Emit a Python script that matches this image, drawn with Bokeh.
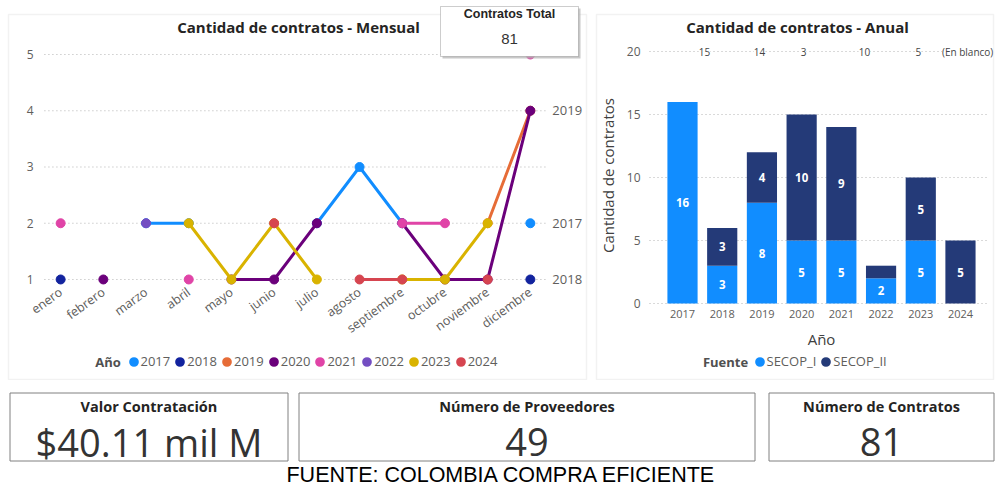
import math
from bokeh.plotting import figure
from bokeh.models import (ColumnDataSource, Range1d, FactorRange, FixedTicker, Label,
                          BoxAnnotation, Legend, LegendItem)
from bokeh.layouts import column, row
from bokeh.embed import file_html
from bokeh.resources import INLINE
from bokeh.core.properties import value

nan = float("nan")

# ---------------- data ----------------
months = ["enero", "febrero", "marzo", "abril", "mayo", "junio", "julio",
          "agosto", "septiembre", "octubre", "noviembre", "diciembre"]
series_years = ["2017", "2018", "2019", "2020", "2021", "2022", "2023", "2024"]
series_colors = ["#118DFF", "#12239E", "#E66C37", "#6B007B",
                 "#E044A7", "#744EC2", "#D9B300", "#D64550"]
v2017 = [nan, nan, 2, 2, nan, nan, 2, 3, 2, nan, nan, 2]
v2018 = [1, nan, nan, nan, nan, nan, nan, nan, nan, nan, nan, 1]
v2019 = [nan, nan, nan, nan, nan, nan, nan, nan, nan, nan, 2, 4]
v2020 = [nan, 1, nan, nan, 1, 1, 2, nan, 2, 1, 1, 4]
v2021 = [2, nan, nan, 1, nan, nan, nan, nan, 2, 2, nan, 5]
v2022 = [nan, nan, 2, nan, nan, nan, nan, nan, nan, nan, nan, nan]
v2023 = [nan, nan, nan, 2, 1, 2, 1, nan, 1, 1, 2, nan]
v2024 = [nan, nan, nan, nan, nan, 2, nan, 1, 1, nan, 1, nan]
series_values = [v2017, v2018, v2019, v2020, v2021, v2022, v2023, v2024]
line_yticks = [1, 2, 3, 4, 5]
end_labels = ["2019", "2017", "2018"]
end_values = [4, 2, 1]

years = ["2017", "2018", "2019", "2020", "2021", "2022", "2023", "2024"]
fuentes = ["SECOP_I", "SECOP_II"]
fuente_colors = ["#118DFF", "#243A78"]
secop_i = [16, 3, 8, 5, 5, 2, 5, 0]
secop_ii = [0, 3, 4, 10, 9, 1, 5, 5]
bar_yticks = [0, 5, 10, 15, 20]
top_labels = ["15", "14", "3", "10", "5", "(En blanco)"]

total_title = "Contratos Total"
total_value = "81"
kpi_titles = ["Valor Contratación", "Número de Proveedores", "Número de Contratos"]
kpi_values = ["$40.11 mil M", "49", "81"]
footer_text = "FUENTE: COLOMBIA COMPRA EFICIENTE"

FONT = "Open Sans"
GREY = "#605E5C"
DARK = "#252423"
GRID = "#B4B4B4"
PANEL = "#D4D4D4"


def box(fig, l, r, t, b, H, **kw):
    """panel / card rectangle in screen pixels (t, b measured from top)."""
    fig.add_layout(BoxAnnotation(left=l, right=r, top=H - t, bottom=H - b,
                                 left_units="screen", right_units="screen",
                                 top_units="screen", bottom_units="screen", **kw))


def slabel(fig, x, y, H, text, **kw):
    """text in screen pixels (y measured from top)."""
    fig.add_layout(Label(x=x, y=H - y, x_units="screen", y_units="screen", text=text,
                         text_align=kw.pop("align", "center"), text_baseline="middle",
                         **kw))


def style_axis(ax, size):
    ax.axis_line_color = None
    ax.major_tick_line_color = None
    ax.minor_tick_line_color = None
    ax.major_tick_out = 0
    ax.major_tick_in = 0
    ax.minor_tick_out = 0
    ax.major_label_text_color = GREY
    ax.major_label_text_font = FONT
    ax.major_label_text_font_size = size


# ---------------- line chart (Mensual) ----------------
LW, LH = 590, 380
lf = figure(width=LW, height=LH, x_range=FactorRange(*months, range_padding=0.1514),
            y_range=Range1d(-0.796, 5.96), output_backend="svg", toolbar_location=None,
            min_border=0)
lf.outline_line_color = None
lf.grid.visible = False
style_axis(lf.xaxis[0], "12.5px")
style_axis(lf.yaxis[0], "12px")
lf.xaxis.fixed_location = 0.911
lf.xaxis.major_label_orientation = math.radians(36)
lf.xaxis.major_label_standoff = 6
lf.yaxis.fixed_location = 0.03
lf.yaxis.ticker = FixedTicker(ticks=line_yticks)
lf.yaxis.major_label_standoff = 7

box(lf, 8, 586, 14, 379, LH, fill_color=None, line_color=PANEL, line_width=1.5)
slabel(lf, 298, 26, LH, "Cantidad de contratos - Mensual", text_font=FONT,
       text_font_size="15px", text_font_style="bold", text_color=DARK)

n_ticks = len(line_yticks)
lf.segment(x0=[0.12] * n_ticks, x1=[len(months) - 0.08] * n_ticks,
           y0=line_yticks, y1=line_yticks, line_color=GRID, line_dash="1 3",
           line_width=1.2)

legend_items = []
for yr, col, ys in zip(series_years, series_colors, series_values):
    src = ColumnDataSource(dict(x=months, y=ys))
    lf.line("x", "y", source=src, line_color=col, line_width=3,
            line_join="round", line_cap="round")
    lf.scatter("x", "y", source=src, size=9, fill_color=col, line_color=col)
    dummy = lf.scatter(x=[months[0]], y=[nan], fill_color=col, line_color=col,
                       line_width=4.5)
    legend_items.append(LegendItem(label=yr, renderers=[dummy]))

dec_pos = months.index("diciembre") + 0.5
for t, v in zip(end_labels, end_values):
    lf.add_layout(Label(x=dec_pos, y=v, x_offset=22, text=t, text_align="left",
                        text_baseline="middle", text_font=FONT,
                        text_font_size="13px", text_color=GREY))

leg_l = Legend(items=legend_items, orientation="horizontal", location=(126.5, 10),
               glyph_width=13, glyph_height=13, label_standoff=1, spacing=3,
               padding=0, margin=0, border_line_color=None, background_fill_alpha=0,
               label_text_font=FONT, label_text_font_size="13px",
               label_text_color=GREY, label_height=13, label_width=10)
lf.add_layout(leg_l, "center")
slabel(lf, 107.5, 361, LH, "Año", text_font=FONT, text_font_size="13px",
       text_font_style="bold", text_color="#505050")

# Contratos Total card
box(lf, 442, 580, 8, 58, LH, fill_color="#B0B0B0", fill_alpha=0.7, line_color=None)
box(lf, 440, 578, 6, 56, LH, fill_color="white", fill_alpha=1.0,
    line_color="#5A5A5A", line_width=1)
slabel(lf, 509, 13.5, LH, total_title, text_font="Liberation Sans",
       text_font_size="12.5px", text_font_style="bold", text_color=DARK)
slabel(lf, 509, 38.5, LH, total_value, text_font="Liberation Sans",
       text_font_size="15px", text_color="#333333")

# ---------------- bar chart (Anual) ----------------
BW, BH = 405, 380
idx = list(range(len(years)))
bf = figure(width=BW, height=BH, x_range=Range1d(-2.317, 7.882),
            y_range=Range1d(-6.111, 24.048), output_backend="svg",
            toolbar_location=None, min_border=0)
bf.outline_line_color = None
bf.grid.visible = False
style_axis(bf.xaxis[0], "11px")
style_axis(bf.yaxis[0], "12px")
bf.xaxis.ticker = FixedTicker(ticks=idx)
bf.xaxis.major_label_overrides = {i: y for i, y in zip(idx, years)}
bf.xaxis.fixed_location = 0
bf.xaxis.major_label_standoff = 6
bf.yaxis.ticker = FixedTicker(ticks=bar_yticks)
bf.yaxis.fixed_location = -0.831
bf.yaxis.major_label_standoff = 9

box(bf, 6, 403, 14, 379, BH, fill_color=None, line_color=PANEL, line_width=1.5)
slabel(bf, 207, 26, BH, "Cantidad de contratos - Anual", text_font=FONT,
       text_font_size="15px", text_font_style="bold", text_color=DARK)
slabel(bf, 17, 175, BH, "Cantidad de contratos", angle=math.pi / 2, text_font=FONT,
       text_font_size="15px", text_color="#404040")
slabel(bf, 231, 338, BH, "Año", text_font=FONT, text_font_size="15px",
       text_color="#404040")

nb = len(bar_yticks)
bf.segment(x0=[-0.831] * nb, x1=[7.731] * nb, y0=bar_yticks, y1=bar_yticks,
           line_color=GRID, line_dash="1 3", line_width=1.2)

bsrc = ColumnDataSource(dict(x=idx, SECOP_I=secop_i, SECOP_II=secop_ii))
bf.vbar_stack(fuentes, x="x", width=0.76, color=fuente_colors, line_color=None,
              source=bsrc)

lab_x, lab_y, lab_t = [], [], []
for i, a, b in zip(idx, secop_i, secop_ii):
    if a > 1:
        lab_x.append(i); lab_y.append(a / 2); lab_t.append(str(a))
    if b > 1:
        lab_x.append(i); lab_y.append(a + b / 2); lab_t.append(str(b))
bf.text(x=lab_x, y=lab_y, text=lab_t, text_align="center", text_baseline="middle",
        text_color="white", text_font=value(FONT), text_font_size="11.5px",
        text_font_style="bold")

top_label_pos = [0.554, 1.94, 3.05, 4.58, 5.94, 7.18]
for t, xp in zip(top_labels, top_label_pos):
    bf.add_layout(Label(x=xp, y=bar_yticks[-1], text=t, text_align="center",
                        text_baseline="middle", text_font=FONT, text_font_size="10px",
                        text_color="#444444", background_fill_color="white"))

bleg_items = []
for f, c in zip(fuentes, fuente_colors):
    d = bf.scatter(x=[0], y=[nan], fill_color=c, line_color=c, line_width=4.5)
    bleg_items.append(LegendItem(label=f, renderers=[d]))
leg_b = Legend(items=bleg_items, orientation="horizontal", location=(162.5, 10),
               glyph_width=13, glyph_height=13, label_standoff=1, spacing=3,
               padding=0, margin=0, border_line_color=None, background_fill_alpha=0,
               label_text_font=FONT, label_text_font_size="13px",
               label_text_color=GREY, label_height=13, label_width=10)
bf.add_layout(leg_b, "center")
slabel(bf, 135, 361, BH, "Fuente", text_font=FONT, text_font_size="13px",
       text_font_style="bold", text_color="#505050")

# ---------------- KPI cards + footer ----------------
TW, TH = 995, 107
bt = figure(width=TW, height=TH, x_range=Range1d(0, TW), y_range=Range1d(TH, 0),
            x_axis_location=None, y_axis_location=None, output_backend="svg",
            toolbar_location=None, min_border=0)
bt.grid.visible = False
bt.outline_line_color = None
card_left = [9.5, 298.5, 768.5]
card_right = [287.5, 754.5, 993.5]
bt.quad(left=card_left, right=card_right, top=[12.5] * 3, bottom=[80.5] * 3,
        fill_color="white", line_color="#808080", line_width=1)
centers = [(a + b) / 2 for a, b in zip(card_left, card_right)]
bt.text(x=centers, y=[26] * 3, text=kpi_titles, text_align="center",
        text_baseline="middle", text_font=value(FONT), text_font_size="14.5px",
        text_font_style="bold", text_color=DARK)
bt.text(x=centers, y=[61] * 3, text=kpi_values, text_align="center",
        text_baseline="middle", text_font=value(FONT), text_font_size="38px",
        text_color="#333333")
bt.text(x=[501], y=[94], text=[footer_text], text_align="center",
        text_baseline="middle", text_font=value("Liberation Sans"),
        text_font_size="21.5px", text_color="black")

layout = column(row(lf, bf), bt)
open("out.html", "w").write(file_html(layout, INLINE))
